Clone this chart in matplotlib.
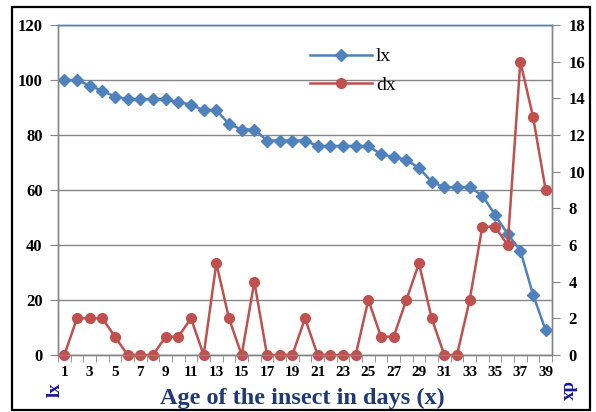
import matplotlib
matplotlib.use("Agg")
import matplotlib.pyplot as plt
from matplotlib.patches import Rectangle

plt.rcParams['font.family'] = ['Liberation Serif', 'DejaVu Serif']

# life table of the insect
age = list(range(1, 40))
lx = [100, 100, 98, 96, 94, 93, 93, 93, 93, 92, 91, 89, 89, 84, 82, 82, 78, 78, 78, 78,
      76, 76, 76, 76, 76, 73, 72, 71, 68, 63, 61, 61, 61, 58, 51, 44, 38, 22, 9]
dx = [0, 2, 2, 2, 1, 0, 0, 0, 1, 1, 2, 0, 5, 2, 0, 4, 0, 0, 0, 2,
      0, 0, 0, 0, 3, 1, 1, 3, 5, 2, 0, 0, 3, 7, 7, 6, 16, 13, 9]
lx_ticks = [0, 20, 40, 60, 80, 100, 120]
dx_ticks = [0, 2, 4, 6, 8, 10, 12, 14, 16, 18]

blue = '#4F81BD'
red = '#C0504D'
grey = '#868686'
navy = '#1F3A73'
label_blue = '#1515A0'

fig = plt.figure(figsize=(5.96, 4.12), dpi=100)
ax = fig.add_axes([58 / 596, 1 - 355 / 412, (552 - 58) / 596, (355 - 25) / 412])
ax2 = ax.twinx()

l1, = ax.plot(age, lx, color=blue, lw=1.8, marker='D', ms=6.5, label='lx', clip_on=False)
l2, = ax2.plot(age, dx, color=red, lw=1.8, marker='o', ms=7, label='dx', clip_on=False)

ax.set_xlim(0.5, 39.5)
ax.set_ylim(0, 120)
ax2.set_ylim(0, 18)
ax.set_yticks(lx_ticks)
ax2.set_yticks(dx_ticks)
ax.set_xticks(age[::2])
ax.set_xticks([a - 0.5 for a in age] + [39.5], minor=True)

ax.grid(axis='y', color=grey, lw=1)
ax.set_axisbelow(True)

for a in (ax, ax2):
    for side in ('left', 'right', 'bottom'):
        a.spines[side].set_color(grey)
        a.spines[side].set_linewidth(1)
    a.spines['top'].set_color(blue)
    a.spines['top'].set_linewidth(1)

ax.tick_params(axis='x', which='major', length=0, pad=8, labelsize=11)
ax.tick_params(axis='x', which='minor', length=5, color=grey)
ax.tick_params(axis='y', length=6, color=grey, pad=5, labelsize=12)
ax2.tick_params(axis='y', length=6, color=grey, pad=6, labelsize=12)
for lab in ax.get_xticklabels() + ax.get_yticklabels() + ax2.get_yticklabels():
    lab.set_fontweight('bold')

fig.text(0.5 * (58 + 552) / 596 - 0.004, 1 - 398 / 412, 'Age of the insect in days (x)',
         ha='center', va='center', fontsize=17.5, fontweight='bold', color=navy)
fig.text(55 / 596, 1 - 390 / 412, 'lx', rotation=90, ha='center', va='center',
         fontsize=13.5, fontweight='bold', color=label_blue)
fig.text(567 / 596, 1 - 391 / 412, 'dx', rotation=270, ha='center', va='center',
         fontsize=13.5, fontweight='bold', color=label_blue)

fig.legend(handles=[l1, l2], loc='upper left', bbox_to_anchor=(302 / 596, 1 - 40 / 412),
           frameon=False, fontsize=14, handlelength=3.2, labelspacing=0.55,
           handletextpad=0.2, borderaxespad=0)

fig.patches.append(Rectangle((12 / 596, 1 - 410 / 412), (590 - 12) / 596, (410 - 7) / 412,
                             transform=fig.transFigure, fill=False, edgecolor='black', lw=1.6))

fig.savefig('out.png', dpi=100)
